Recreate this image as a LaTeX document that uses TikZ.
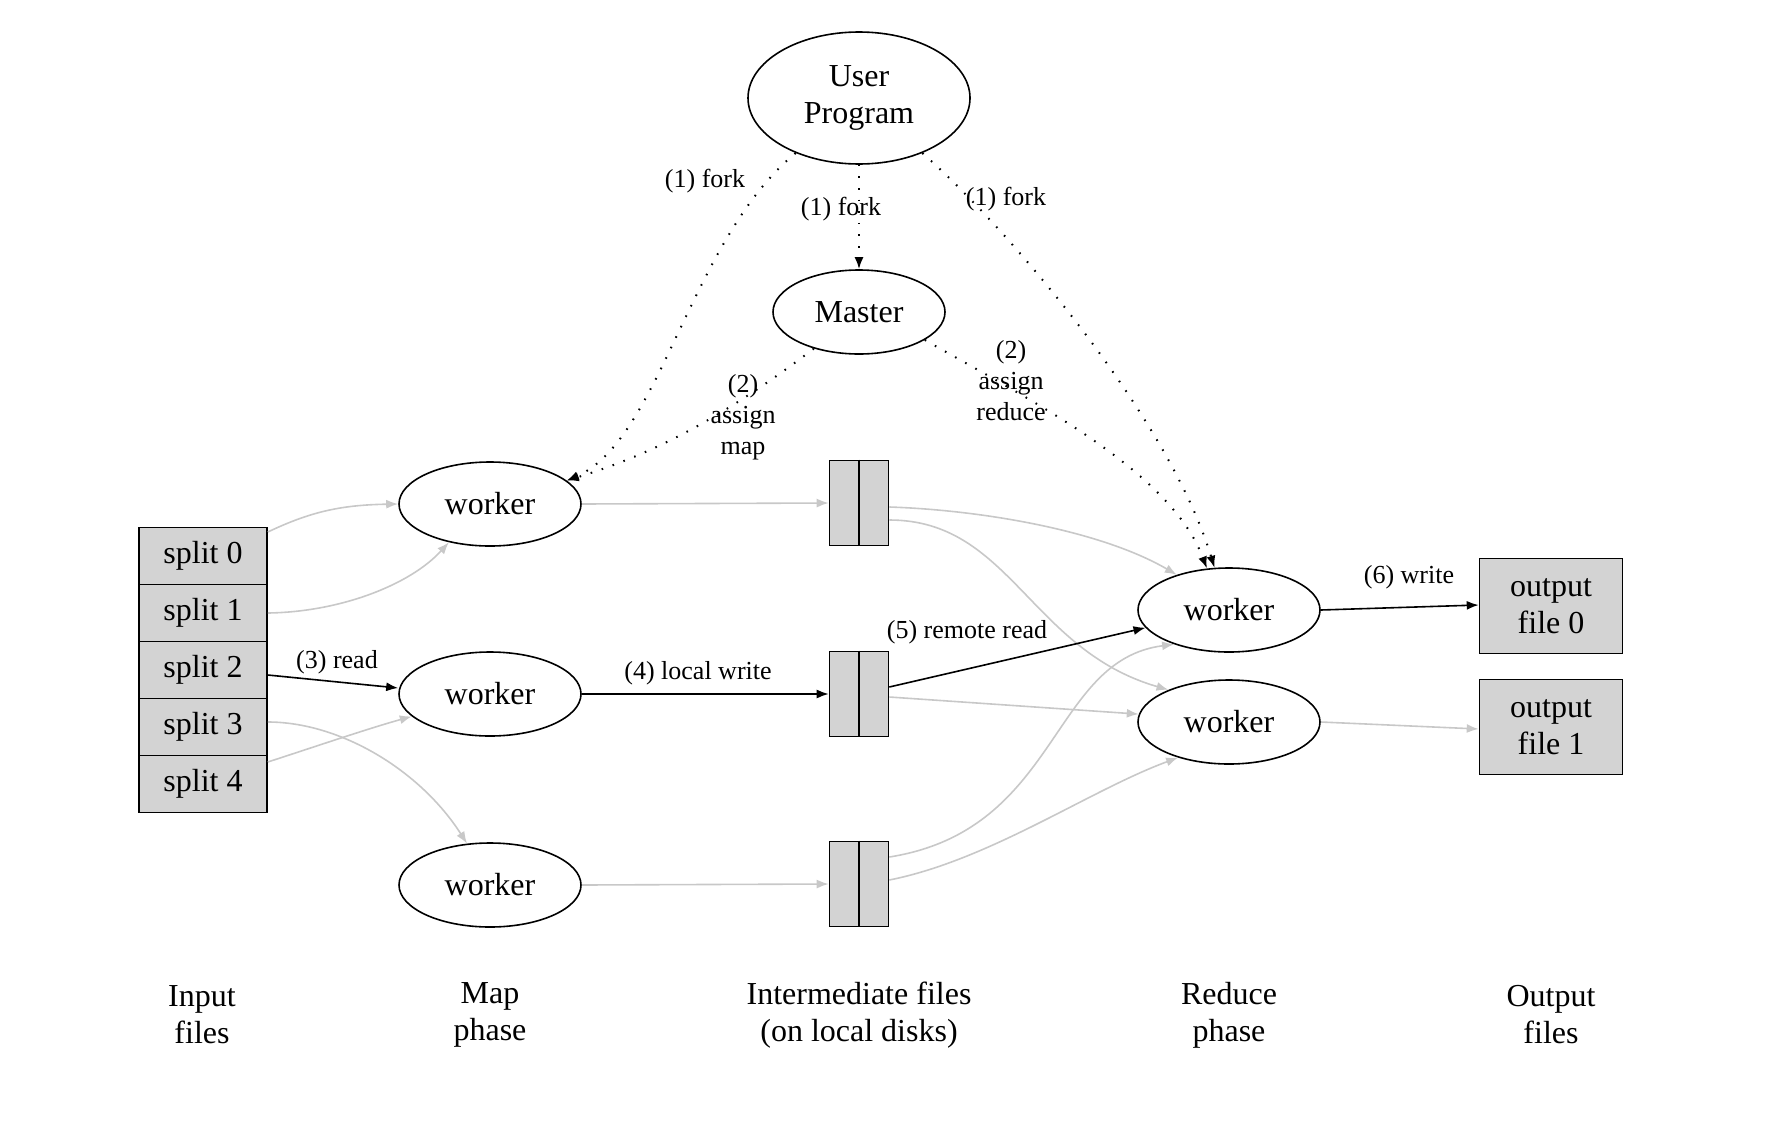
\documentclass[tikz,border=0pt]{standalone}
\usepackage{fontspec}
\setmainfont{Liberation Serif}
\usetikzlibrary{shapes.geometric,arrows.meta}
\definecolor{boxgray}{RGB}{211,211,211}
\definecolor{edgegray}{RGB}{200,200,200}

\begin{document}
\begin{tikzpicture}[x=0.5pt,y=-0.5pt,
  big/.style={font=\fontsize{16}{18.5}\selectfont},
  lbl/.style={font=\fontsize{13}{15.5}\selectfont,align=center,inner sep=1pt},
  proc/.style={draw,ellipse,inner sep=0pt,line width=0.8pt,big,align=center},
  worker/.style={proc,minimum width=91pt,minimum height=42pt},
  filebox/.style={draw,fill=boxgray,line width=0.8pt,inner sep=0pt,big,align=center},
  feed/.style={draw=edgegray,line width=0.8pt,-{Latex[length=6pt,width=4.5pt]}},
  flow/.style={draw=black,line width=0.8pt,-{Latex[length=6pt,width=4.5pt]}},
  ctrl/.style={line width=1pt,dash pattern=on 0.8pt off 5pt,-{Latex[length=6pt,width=4.5pt]}}]
  \useasboundingbox (0,0) rectangle (1792,1140);
  % nodes
  \node[proc,minimum width=111pt,minimum height=66pt] (user) at (859,98) {User\\Program};
  \node[proc,minimum width=86pt,minimum height=42pt] (master) at (859,312) {Master};
  \foreach \i/\y in {0/556,1/613,2/670,3/727,4/784}
    \node[filebox,minimum width=64pt,minimum height=28.6pt] (s\i) at (203,\y) {split \i};
  \node[worker] (m0) at (490,504) {worker};
  \node[worker] (m1) at (490,694) {worker};
  \node[worker] (m2) at (490,885) {worker};
  \foreach \i/\y in {0/503,1/694,2/884} {
    \node[filebox,minimum width=29.5pt,minimum height=42.5pt] (i\i) at (859,\y) {};
    \draw[line width=0.8pt] (i\i.north) -- (i\i.south);
  }
  \node[worker] (r0) at (1229,610) {worker};
  \node[worker] (r1) at (1229,722) {worker};
  \node[filebox,minimum width=71.5pt,minimum height=47.5pt] (o0) at (1551,606) {output\\file 0};
  \node[filebox,minimum width=71.5pt,minimum height=47.5pt] (o1) at (1551,727) {output\\file 1};
  % column titles
  \node[big,align=center] (tin) at (202,1015) {Input\\files};
  \node[big,align=center] (tmap) at (490,1015) {Map\\phase};
  \node[big,align=center] (tmid) at (859,1015) {Intermediate files\\(on local disks)};
  \node[big,align=center] (tred) at (1229,1015) {Reduce\\phase};
  \node[big,align=center] (tout) at (1551,1015) {Output\\files};
  % control
  \draw[ctrl] (user.south) -- (master.north);
  \draw[ctrl] (user.221) .. controls (690,240) and (660,440) .. (m0.17);
  \draw[ctrl] (master.219) .. controls (720,420) and (650,455) .. (m0.17);
  \draw[ctrl] (user.319) .. controls (1010,230) and (1170,420) .. (r0.109);
  \draw[ctrl] (master.-23) .. controls (1030,400) and (1170,470) .. (r0.118);
  \node[lbl] (f0) at (705,181) {(1) fork};
  \node[lbl] (f1) at (841,209) {(1) fork};
  \node[lbl] (f2) at (1006,199) {(1) fork};
  \node[lbl] (am) at (743,417) {(2)\\assign\\map};
  \node[lbl] (ar) at (1011,381) {(2)\\assign\\reduce};
  % data
  \draw[feed] ([yshift=12pt]s0.east) .. controls (310,512) and (340,505) .. (m0.west);
  \draw[feed] (s1.east) .. controls (340,612) and (410,585) .. (m0.223);
  \draw[flow] ([yshift=-2.5pt]s2.east) -- ([yshift=3pt]m1.west);
  \draw[feed] ([yshift=2.5pt]s3.east) .. controls (340,722) and (420,770) .. (m2.119);
  \draw[feed] ([yshift=11pt]s4.east) .. controls (320,745) and (370,728) .. (m1.196);
  \node[lbl] (lread) at (337,662) {(3) read};
  \draw[feed] (m0.east) -- (i0.west);
  \draw[flow] (m1.east) -- (i1.west);
  \draw[feed] (m2.east) -- (i2.west);
  \node[lbl] (lwrite) at (698,673) {(4) local write};
  \draw[feed] ([yshift=-2pt]i0.east) .. controls (980,510) and (1100,530) .. (r0.146);
  \draw[feed] ([yshift=-8.5pt]i0.east) .. controls (1010,520) and (1030,650) .. (r1.152);
  \draw[flow] ([yshift=3.5pt]i1.east) -- (r0.192);
  \draw[feed] ([yshift=-1.5pt]i1.east) -- (r1.175);
  \draw[feed] ([yshift=13.5pt]i2.east) .. controls (1060,830) and (1050,660) .. (r0.212);
  \draw[feed] ([yshift=2pt]i2.east) .. controls (990,860) and (1090,790) .. (r1.215);
  \node[lbl] (lremote) at (967,632) {(5) remote read};
  \draw[flow] (r0.east) -- ([yshift=0.5pt]o0.west);
  \draw[feed] (r1.east) -- ([yshift=-1pt]o1.west);
  \node[lbl] (lout) at (1409,577) {(6) write};
\end{tikzpicture}
\end{document}
